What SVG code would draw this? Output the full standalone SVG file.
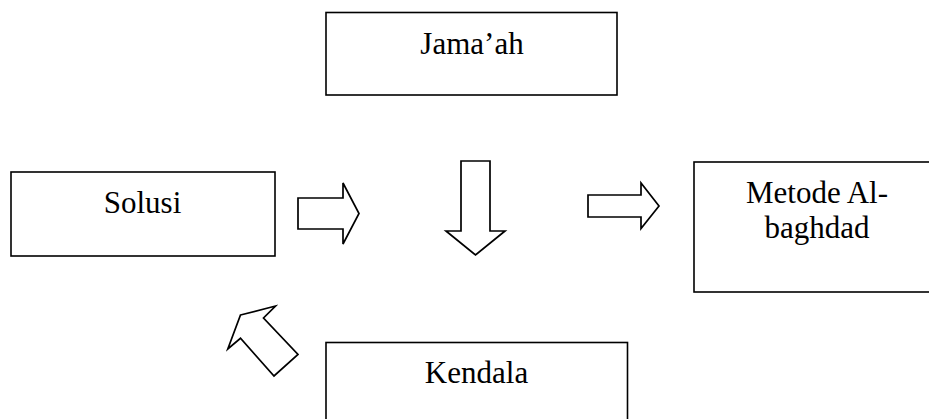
<svg xmlns="http://www.w3.org/2000/svg" width="929" height="419" viewBox="0 0 929 419">
<style>
.box{fill:#fff;stroke:#000;stroke-width:1.6}
.arr{fill:#fff;stroke:#000;stroke-width:1.7;stroke-linejoin:miter}
.t{font-family:"Liberation Serif","Times New Roman",serif;font-size:31px;fill:#000;text-anchor:middle}
</style>
<rect width="929" height="419" fill="#fff"/>
<g id="jamaah">
<rect class="box" x="326" y="12.5" width="291" height="82.5"/>
<text class="t" x="472" y="54">Jama’ah</text>
</g>
<g id="solusi">
<rect class="box" x="11" y="172" width="264" height="84"/>
<text class="t" x="142.5" y="213">Solusi</text>
</g>
<g id="metode">
<rect class="box" x="694" y="162" width="260" height="130"/>
<text class="t" x="817" y="203">Metode Al-</text>
<text class="t" x="817" y="238">baghdad</text>
</g>
<g id="kendala">
<rect class="box" x="326" y="342.5" width="301.5" height="90"/>
<text class="t" x="476.5" y="382.5">Kendala</text>
</g>
<g id="connectors">
<polygon class="arr" points="298,198 343,198 343,183 359,213.5 343,244 343,229 298,229"/>
<polygon class="arr" points="588,195 641,195 641,183 659,206 641,228.5 641,217 588,217"/>
<polygon class="arr" points="461,161 490,161 490,231 505,231 475.5,255 446,231 461,231"/>
<polygon class="arr" points="240.5,315 275.5,306 263.5,318 298,354.5 274,376 240.5,338.3 227.8,349"/>
</g>
</svg>
